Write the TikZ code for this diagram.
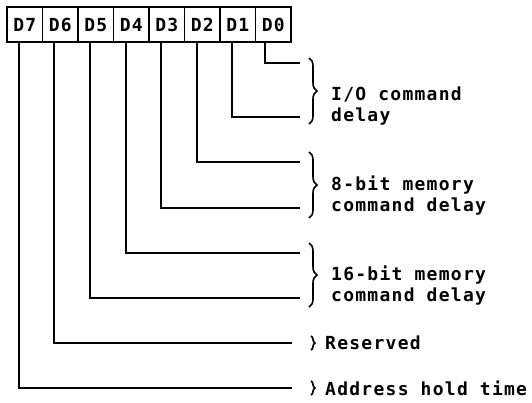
\documentclass[tikz,border=0pt]{standalone}
\usepackage{fontspec}
\newfontfamily\plotfont[LetterSpace=7]{DejaVu Sans Mono Bold}
\usetikzlibrary{positioning,decorations.pathreplacing}
\tikzset{
  bitbox/.style={draw, line width=1.5pt, outer sep=0pt, inner sep=0pt,
    minimum width=35.5pt, minimum height=35pt, text height=13pt, text depth=0pt,
    font=\plotfont\fontsize{18}{21}\selectfont},
  wire/.style={line width=1.7pt},
  curly/.style={line width=1.6pt, decorate, decoration={brace, amplitude=#1}},
  curly/.default=8pt,
  fieldtext/.style={anchor=west, align=left, inner sep=0pt,
    font=\plotfont\fontsize{18}{21}\selectfont}
}

\begin{document}
\begin{tikzpicture}[x=1pt, y=-1pt]
  \useasboundingbox (0,0) rectangle (532,402);

  % Register bits, D7 on the left
  \node[bitbox] (b7) at (24.75,24.5) {D7};
  \foreach \i [remember=\i as \prev (initially 7)] in {6,5,...,0}
    \node[bitbox, right=0pt of b\prev] (b\i) {D\i};

  % Line ends next to the braces
  \coordinate (e0) at (300,63);
  \coordinate (e1) at (300,117);
  \coordinate (e2) at (300,162);
  \coordinate (e3) at (300,208);
  \coordinate (e4) at (300,253);
  \coordinate (e5) at (300,298);
  \coordinate (e6) at (292,343);
  \coordinate (e7) at (292,388);

  % Bit lines
  \foreach \i/\dx in {0/-8,1/-6,2/-5,3/-6,4/-5,5/-6,6/-6,7/-6}
    \draw[wire] ([xshift=\dx pt]b\i.south) |- (e\i);

  % Braces
  \draw[curly] (309,58) -- (309,124);
  \draw[curly] (309,152) -- (309,218);
  \draw[curly] (309,243) -- (309,307);
  \draw[curly=4pt] (311,336) -- (311,350);
  \draw[curly=4pt] (311,381) -- (311,395);

  % Field names
  \node[fieldtext] (io) at (331,106) {I/O command\\delay};
  \node[fieldtext] (mem8) at (331,196) {8-bit memory\\command delay};
  \node[fieldtext] (mem16) at (331,286) {16-bit memory\\command delay};
  \node[fieldtext] (res) at (325,343) {Reserved};
  \node[fieldtext] (hold) at (325,388) {Address hold time};
\end{tikzpicture}
\end{document}
